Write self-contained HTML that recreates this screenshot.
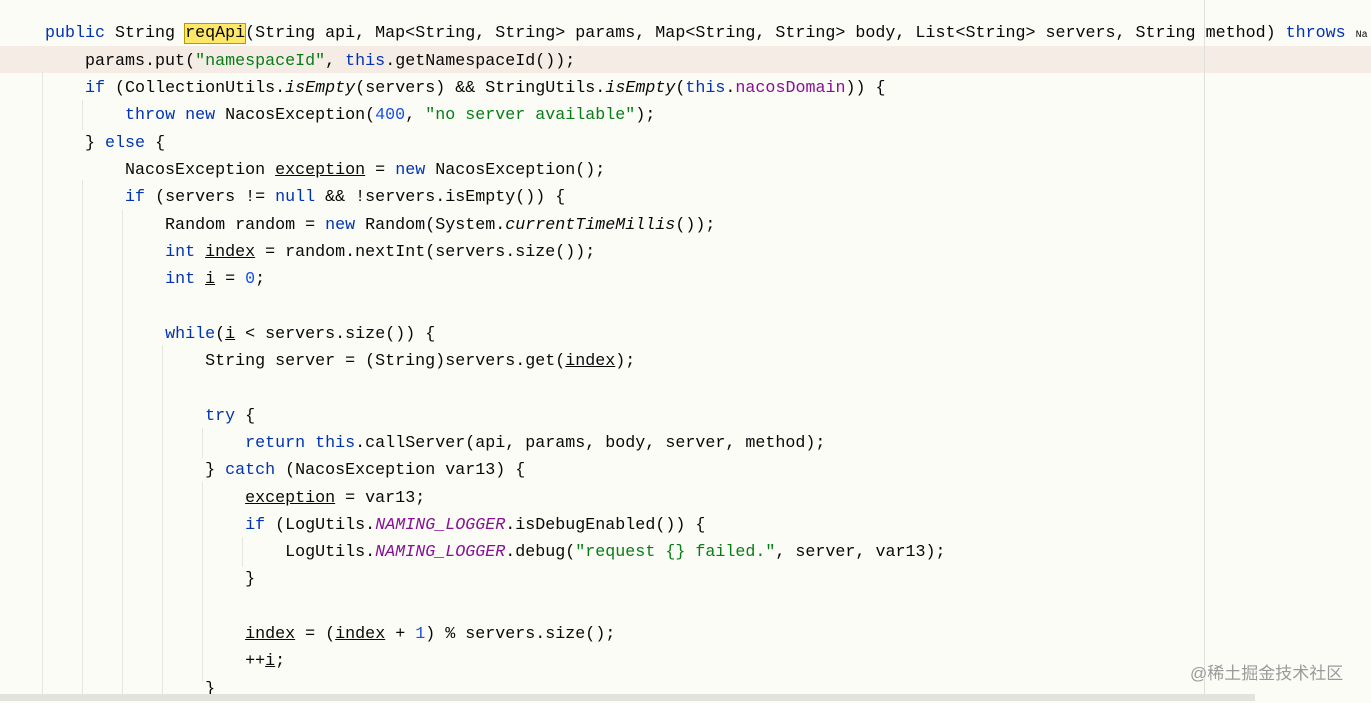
<!DOCTYPE html>
<html><head><meta charset="utf-8"><style>
html,body{margin:0;padding:0;}
body{width:1371px;height:701px;overflow:hidden;background:#fcfcf7;position:relative;font-family:"Liberation Mono",monospace;font-size:16.68px;color:#080808;}
.l{position:absolute;left:45px;height:27.3px;line-height:27.3px;white-space:pre;margin-top:2px;}
.k{color:#0033b3}.s{color:#067d17}.n{color:#1750eb}.p{color:#871094;font-style:italic}.i{font-style:italic}.u{text-decoration:underline}
.hl{position:absolute;left:0;top:46px;width:1371px;height:27px;background:#f6ece6;}
.g{position:absolute;width:1px;background:#e6e6e0;}
.m{position:absolute;left:1204px;top:0;width:1px;height:701px;background:#e0e0da;}
.sb{position:absolute;left:0;top:694px;width:1255px;height:7px;background:#e2e2df;}
.wm{position:absolute;left:1190px;top:659px;font-family:"Liberation Sans","Noto Sans CJK SC",sans-serif;font-size:17px;color:#9a9a9a;}
.box{background:#ffe866;outline:1px solid #b59a00;}
</style></head><body>
<div class="hl"></div>
<div class="m"></div>
<div class="g" style="left:42px;top:72px;height:629px"></div>
<div class="g" style="left:82px;top:100px;height:30px"></div>
<div class="g" style="left:82px;top:180px;height:521px"></div>
<div class="g" style="left:122px;top:210px;height:491px"></div>
<div class="g" style="left:162px;top:345px;height:356px"></div>
<div class="g" style="left:202px;top:428px;height:30px"></div>
<div class="g" style="left:202px;top:482px;height:200px"></div>
<div class="g" style="left:242px;top:537px;height:30px"></div>
<div class="l" style="top:18px"><span class="k">public</span> String <span class="box">reqApi</span>(String api, Map&lt;String, String&gt; params, Map&lt;String, String&gt; body, List&lt;String&gt; servers, String method) <span class="k">throws</span> <span style="font-size:10px">Na</span></div>
<div class="l" style="top:45.5px">    params.put(<span class="s">"namespaceId"</span>, <span class="k">this</span>.getNamespaceId());</div>
<div class="l" style="top:73px">    <span class="k">if</span> (CollectionUtils.<span class="i">isEmpty</span>(servers) &amp;&amp; StringUtils.<span class="i">isEmpty</span>(<span class="k">this</span>.<span style="color:#871094">nacosDomain</span>)) {</div>
<div class="l" style="top:100.3px">        <span class="k">throw new</span> NacosException(<span class="n">400</span>, <span class="s">"no server available"</span>);</div>
<div class="l" style="top:127.6px">    } <span class="k">else</span> {</div>
<div class="l" style="top:155px">        NacosException <span class="u">exception</span> = <span class="k">new</span> NacosException();</div>
<div class="l" style="top:182.2px">        <span class="k">if</span> (servers != <span class="k">null</span> &amp;&amp; !servers.isEmpty()) {</div>
<div class="l" style="top:209.5px">            Random random = <span class="k">new</span> Random(System.<span class="i">currentTimeMillis</span>());</div>
<div class="l" style="top:236.8px">            <span class="k">int</span> <span class="u">index</span> = random.nextInt(servers.size());</div>
<div class="l" style="top:264px">            <span class="k">int</span> <span class="u">i</span> = <span class="n">0</span>;</div>
<div class="l" style="top:318.7px">            <span class="k">while</span>(<span class="u">i</span> &lt; servers.size()) {</div>
<div class="l" style="top:346px">                String server = (String)servers.get(<span class="u">index</span>);</div>
<div class="l" style="top:400.6px">                <span class="k">try</span> {</div>
<div class="l" style="top:428px">                    <span class="k">return this</span>.callServer(api, params, body, server, method);</div>
<div class="l" style="top:455.2px">                } <span class="k">catch</span> (NacosException var13) {</div>
<div class="l" style="top:482.5px">                    <span class="u">exception</span> = var13;</div>
<div class="l" style="top:509.8px">                    <span class="k">if</span> (LogUtils.<span class="p">NAMING_LOGGER</span>.isDebugEnabled()) {</div>
<div class="l" style="top:537.1px">                        LogUtils.<span class="p">NAMING_LOGGER</span>.debug(<span class="s">"request {} failed."</span>, server, var13);</div>
<div class="l" style="top:564.4px">                    }</div>
<div class="l" style="top:619px">                    <span class="u">index</span> = (<span class="u">index</span> + <span class="n">1</span>) % servers.size();</div>
<div class="l" style="top:646.3px">                    ++<span class="u">i</span>;</div>
<div class="l" style="top:673.6px">                }</div>
<div class="sb"></div>
<div class="wm">@稀土掘金技术社区</div>
</body></html>
